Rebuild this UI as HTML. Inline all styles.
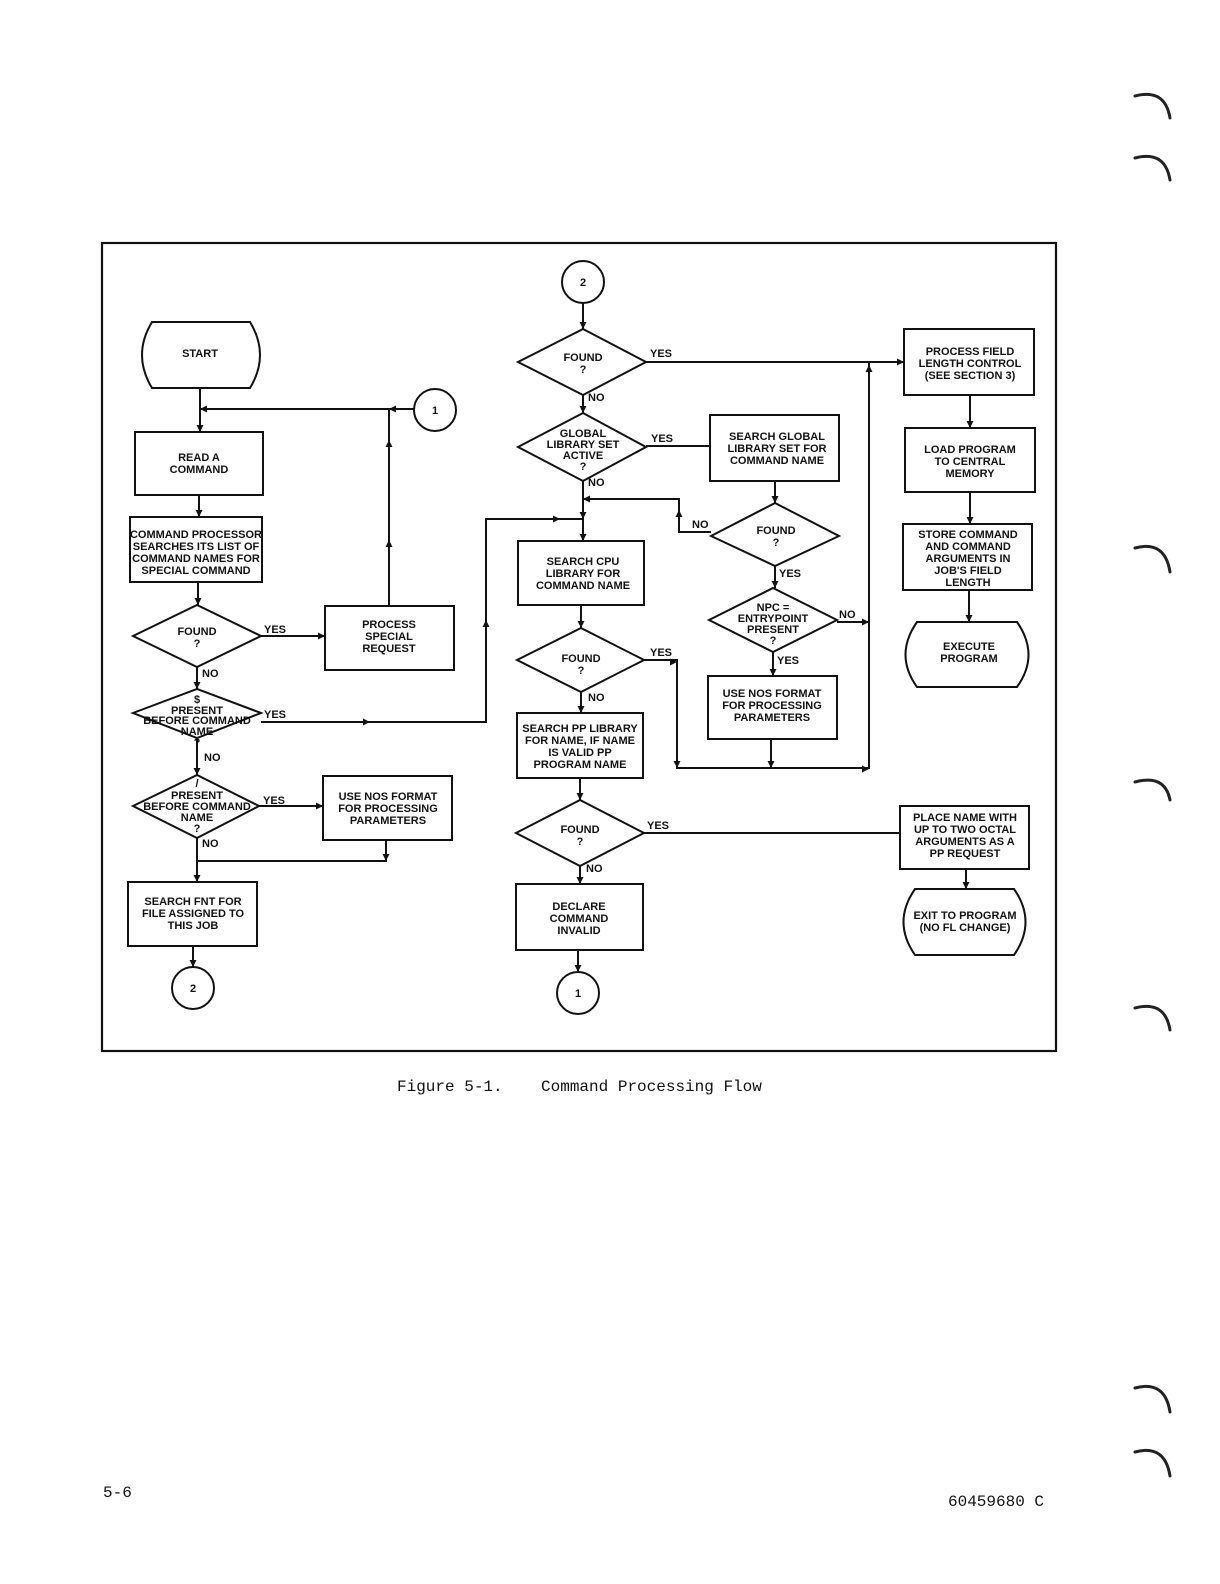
<!DOCTYPE html>
<html><head><meta charset="utf-8"><style>
html,body{margin:0;padding:0;background:#fff;overflow:hidden;}
svg{display:block;}
text{font-family:"Liberation Sans",sans-serif;font-weight:bold;font-size:11px;fill:#111;}
.m{font-family:"Liberation Mono",monospace;font-weight:normal;font-size:16px;}
</style></head><body>
<svg width="1220" height="1584" viewBox="0 0 1220 1584" xmlns="http://www.w3.org/2000/svg">
<defs>
<path id="ad" d="M-3.5,-7 L3.5,-7 L0,0 Z" fill="#111"/>
</defs>
<g fill="none" stroke="#222" stroke-width="3" stroke-linecap="round">
<path d="M1135,96 Q1165,88 1170,118"/><path d="M1135,158 Q1165,150 1170,180"/>
<path d="M1135,548 Q1165,540 1170,572"/><path d="M1135,782 Q1165,774 1170,800"/>
<path d="M1135,1008 Q1165,1000 1170,1030"/><path d="M1135,1388 Q1165,1380 1170,1412"/>
<path d="M1135,1452 Q1165,1444 1170,1476"/>
</g>
<rect x="102" y="243" width="954" height="808" fill="none" stroke="#111" stroke-width="2.2"/>
<g fill="none" stroke="#111" stroke-width="2">
<path d="M152,322 L250,322 Q270,355 250,388 L152,388 Q132,355 152,322 Z"/>
<rect x="135" y="432" width="128" height="63"/>
<rect x="130" y="517" width="132" height="65"/>
<path d="M133,636 L197,605 L261,636 L197,667 Z"/>
<rect x="325" y="606" width="129" height="64"/>
<path d="M133,713 L197,689 L261,713 L197,738 Z"/>
<path d="M133,806 L197,775 L259,806 L197,838 Z"/>
<rect x="323" y="776" width="129" height="64"/>
<rect x="128" y="882" width="129" height="64"/>
<circle cx="193" cy="988" r="21"/>
<circle cx="435" cy="410" r="21"/>
<circle cx="583" cy="282" r="21"/>
<path d="M518,362 L583,329 L646,362 L583,395 Z"/>
<path d="M518,447 L583,413 L646,447 L583,481 Z"/>
<rect x="710" y="415" width="129" height="66"/>
<rect x="518" y="541" width="126" height="64"/>
<path d="M711,536 L775,503 L839,536 L775,566 Z"/>
<path d="M709,620 L773,588 L837,620 L773,652 Z"/>
<path d="M517,660 L581,628 L644,660 L581,692 Z"/>
<rect x="708" y="676" width="129" height="63"/>
<rect x="517" y="713" width="126" height="65"/>
<path d="M516,833 L580,800 L644,833 L580,866 Z"/>
<rect x="516" y="884" width="127" height="66"/>
<circle cx="578" cy="993" r="21"/>
<rect x="904" y="329" width="130" height="66"/>
<rect x="905" y="428" width="130" height="64"/>
<rect x="903" y="524" width="129" height="66"/>
<path d="M917,622 L1017,622 Q1040,655 1017,687 L917,687 Q894,655 917,622 Z"/>
<rect x="900" y="806" width="129" height="63"/>
<path d="M915,889 L1014,889 Q1037,922 1014,955 L915,955 Q892,922 915,889 Z"/>
<path d="M200,388 V432 M200,409 H414 M389,409 V606"/>
<path d="M199,495 V517 M198,582 V605 M197,667 V689 M197,738 V775 M197,838 V882 M193,946 V967"/>
<path d="M261,636 H325 M261,722 H486 V519 H583 M259,806 H323 M197,861 H386 V840"/>
<path d="M583,303 V329 M583,395 V413 M583,481 V541 M646,362 H904 M646,446 H710"/>
<path d="M775,481 V503 M711,532 H679 V499 H583 M775,566 V588 M773,652 V676 M837,622 H869"/>
<path d="M869,362 V769 M644,660 H677 V768 H869 M771,739 V768"/>
<path d="M581,605 V628 M581,692 V713 M580,778 V800 M644,833 H900 M580,866 V884 M578,950 V972"/>
<path d="M970,395 V428 M970,492 V524 M969,590 V622 M966,869 V889"/>
</g>
<g>
<use href="#ad" x="200" y="432"/><use href="#ad" x="199" y="517"/><use href="#ad" x="198" y="605"/>
<use href="#ad" x="197" y="689"/><use href="#ad" x="197" y="775"/><use href="#ad" x="197" y="882"/>
<use href="#ad" x="193" y="967"/><use href="#ad" x="386" y="861"/>
<use href="#ad" x="583" y="329"/><use href="#ad" x="583" y="413"/><use href="#ad" x="583" y="541"/>
<use href="#ad" x="583" y="519"/><use href="#ad" x="775" y="503"/><use href="#ad" x="775" y="588"/>
<use href="#ad" x="773" y="676"/><use href="#ad" x="771" y="768"/><use href="#ad" x="581" y="628"/>
<use href="#ad" x="581" y="713"/><use href="#ad" x="580" y="800"/><use href="#ad" x="580" y="884"/>
<use href="#ad" x="578" y="972"/><use href="#ad" x="970" y="428"/><use href="#ad" x="970" y="524"/>
<use href="#ad" x="969" y="622"/><use href="#ad" x="966" y="889"/><use href="#ad" x="677" y="768"/>
<use href="#ad" x="200" y="409" transform="rotate(90 200 409)"/>
<use href="#ad" x="389" y="409" transform="rotate(90 389 409)"/>
<use href="#ad" x="389" y="440" transform="rotate(180 389 440)"/>
<use href="#ad" x="389" y="540" transform="rotate(180 389 540)"/>
<use href="#ad" x="325" y="636" transform="rotate(-90 325 636)"/>
<use href="#ad" x="370" y="722" transform="rotate(-90 370 722)"/>
<use href="#ad" x="486" y="620" transform="rotate(180 486 620)"/>
<use href="#ad" x="560" y="519" transform="rotate(-90 560 519)"/>
<use href="#ad" x="323" y="806" transform="rotate(-90 323 806)"/>
<use href="#ad" x="904" y="362" transform="rotate(-90 904 362)"/>
<use href="#ad" x="583" y="499" transform="rotate(90 583 499)"/>
<use href="#ad" x="679" y="510" transform="rotate(180 679 510)"/>
<use href="#ad" x="869" y="622" transform="rotate(-90 869 622)"/>
<use href="#ad" x="869" y="365" transform="rotate(180 869 365)"/>
<use href="#ad" x="869" y="769" transform="rotate(-90 869 769)"/>
<use href="#ad" x="677" y="662" transform="rotate(-90 677 662)"/>
</g>
<g text-anchor="middle">
<text x="200" y="357">START</text>
<text x="435" y="414">1</text>
<text x="199" y="461">READ A</text><text x="199" y="473">COMMAND</text>
<text x="196" y="538">COMMAND PROCESSOR</text><text x="196" y="550">SEARCHES ITS LIST OF</text><text x="196" y="562">COMMAND NAMES FOR</text><text x="196" y="574">SPECIAL COMMAND</text>
<text x="197" y="635">FOUND</text><text x="197" y="647">?</text>
<text x="389" y="628">PROCESS</text><text x="389" y="640">SPECIAL</text><text x="389" y="652">REQUEST</text>
<text x="197" y="703">$</text><text x="197" y="714">PRESENT</text><text x="197" y="724">BEFORE COMMAND</text><text x="197" y="735">NAME</text><text x="197" y="746">?</text>
<text x="197" y="787">/</text><text x="197" y="799">PRESENT</text><text x="197" y="810">BEFORE COMMAND</text><text x="197" y="821">NAME</text><text x="197" y="832">?</text>
<text x="388" y="800">USE NOS FORMAT</text><text x="388" y="812">FOR PROCESSING</text><text x="388" y="824">PARAMETERS</text>
<text x="193" y="905">SEARCH FNT FOR</text><text x="193" y="917">FILE ASSIGNED TO</text><text x="193" y="929">THIS JOB</text>
<text x="193" y="992">2</text>
<text x="583" y="286">2</text>
<text x="583" y="361">FOUND</text><text x="583" y="373">?</text>
<text x="583" y="437">GLOBAL</text><text x="583" y="448">LIBRARY SET</text><text x="583" y="459">ACTIVE</text><text x="583" y="470">?</text>
<text x="777" y="440">SEARCH GLOBAL</text><text x="777" y="452">LIBRARY SET FOR</text><text x="777" y="464">COMMAND NAME</text>
<text x="583" y="565">SEARCH CPU</text><text x="583" y="577">LIBRARY FOR</text><text x="583" y="589">COMMAND NAME</text>
<text x="776" y="534">FOUND</text><text x="776" y="546">?</text>
<text x="773" y="611">NPC =</text><text x="773" y="622">ENTRYPOINT</text><text x="773" y="633">PRESENT</text><text x="773" y="644">?</text>
<text x="581" y="662">FOUND</text><text x="581" y="674">?</text>
<text x="772" y="697">USE NOS FORMAT</text><text x="772" y="709">FOR PROCESSING</text><text x="772" y="721">PARAMETERS</text>
<text x="580" y="732">SEARCH PP LIBRARY</text><text x="580" y="744">FOR NAME, IF NAME</text><text x="580" y="756">IS VALID PP</text><text x="580" y="768">PROGRAM NAME</text>
<text x="580" y="833">FOUND</text><text x="580" y="845">?</text>
<text x="579" y="910">DECLARE</text><text x="579" y="922">COMMAND</text><text x="579" y="934">INVALID</text>
<text x="578" y="997">1</text>
<text x="970" y="355">PROCESS FIELD</text><text x="970" y="367">LENGTH CONTROL</text><text x="970" y="379">(SEE SECTION 3)</text>
<text x="970" y="453">LOAD PROGRAM</text><text x="970" y="465">TO CENTRAL</text><text x="970" y="477">MEMORY</text>
<text x="968" y="538">STORE COMMAND</text><text x="968" y="550">AND COMMAND</text><text x="968" y="562">ARGUMENTS IN</text><text x="968" y="574">JOB'S FIELD</text><text x="968" y="586">LENGTH</text>
<text x="969" y="650">EXECUTE</text><text x="969" y="662">PROGRAM</text>
<text x="965" y="821">PLACE NAME WITH</text><text x="965" y="833">UP TO TWO OCTAL</text><text x="965" y="845">ARGUMENTS AS A</text><text x="965" y="857">PP REQUEST</text>
<text x="965" y="919">EXIT TO PROGRAM</text><text x="965" y="931">(NO FL CHANGE)</text>
</g>
<g>
<text x="264" y="633">YES</text><text x="202" y="677">NO</text>
<text x="264" y="718">YES</text><text x="204" y="761">NO</text>
<text x="263" y="804">YES</text><text x="202" y="847">NO</text>
<text x="650" y="357">YES</text><text x="588" y="401">NO</text>
<text x="651" y="442">YES</text><text x="588" y="486">NO</text>
<text x="692" y="528">NO</text><text x="779" y="577">YES</text>
<text x="839" y="618">NO</text><text x="777" y="664">YES</text>
<text x="650" y="656">YES</text><text x="588" y="701">NO</text>
<text x="647" y="829">YES</text><text x="586" y="872">NO</text>
</g>
<text class="m" x="397" y="1091">Figure 5-1.&#160;&#160;&#160; Command Processing Flow</text>
<text class="m" x="103" y="1497">5-6</text>
<text class="m" x="948" y="1506">60459680 C</text>
</svg>
</body></html>
